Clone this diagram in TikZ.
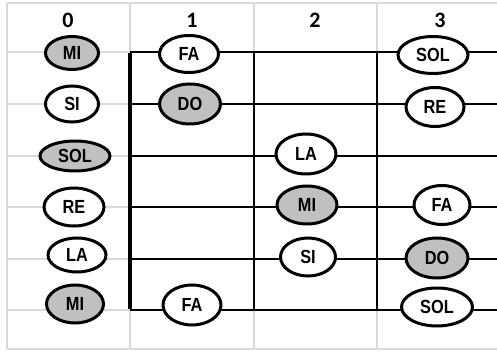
\documentclass[tikz,border=0pt]{standalone}
\usepackage{fontspec}
\usetikzlibrary{shapes.geometric}
\newfontfamily\notefont[FakeStretch=0.86]{Liberation Sans}
\newfontfamily\headfont{Carlito}
\definecolor{gridgray}{HTML}{D9D9D9}
\definecolor{notegray}{HTML}{C0C0C0}
\tikzset{
  gridline/.style={draw=gridgray, line width=1.3pt},
  staffline/.style={draw=black, line width=1.6pt},
  barline/.style={draw=black, line width=3.6pt},
  note/.style={ellipse, draw=black, line width=3pt, fill=white, inner sep=0pt,
    font=\notefont\bfseries\fontsize{19}{20}\selectfont},
  grey/.style={fill=notegray},
  sz/.style 2 args={minimum width=#1pt, minimum height=#2pt},
  head/.style={font=\headfont\bfseries\fontsize{22}{23}\selectfont, inner sep=0pt}
}
\begin{document}
\begin{tikzpicture}[x=1pt,y=-1pt]
\useasboundingbox (0,0) rectangle (497,352);
\fill[white] (0,0) rectangle (497,352);
% light grid
\foreach \yy in {3,52,104,156,207,259,310,349} \draw[gridline] (7,\yy) -- (497,\yy);
\foreach \xx in {7,130,254,377} \draw[gridline] (\xx,3) -- (\xx,349);
% header
\node[head] (h0) at (68,20) {0};
\node[head] (h1) at (192,20) {1};
\node[head] (h2) at (315,20) {2};
\node[head] (h3) at (440,20) {3};
% staff coordinates
\foreach \i/\yy in {1/52,2/104,3/156,4/207,5/259,6/310} {
  \coordinate (L\i) at (130,\yy);
  \coordinate (R\i) at (497,\yy);
}
\coordinate (Ta) at (254,52); \coordinate (Ba) at (254,310);
\coordinate (Tb) at (377,52); \coordinate (Bb) at (377,310);
\foreach \i in {1,...,6} \draw[staffline] (L\i) -- (R\i);
\draw[staffline] (Ta) -- (Ba);
\draw[staffline] (Tb) -- (Bb);
\draw[barline] ([yshift=-0.8pt]L1) -- ([yshift=0.8pt]L6);
% column 0
\node[note,grey,sz={53}{33}] (a1) at (72,53) {MI};
\node[note,sz={53}{36}] (a2) at (72,104) {SI};
\node[note,grey,sz={70}{30}] (a3) at (75,156) {SOL};
\node[note,sz={60}{38}] (a4) at (74,207) {RE};
\node[note,sz={58}{34}] (a5) at (77,255) {LA};
\node[note,grey,sz={57}{38}] (a6) at (75,304) {MI};
% column 1
\node[note,sz={59}{37}] (b1) at (189,54) {FA};
\node[note,grey,sz={61}{40}] (b2) at (190,104) {DO};
\node[note,sz={58}{40}] (b6) at (192,305) {FA};
% column 2
\node[note,sz={60}{40}] (c3) at (306,154) {LA};
\node[note,grey,sz={60}{38}] (c4) at (307,205) {MI};
\node[note,sz={55}{38}] (c5) at (308,257) {SI};
% column 3
\node[note,sz={70}{37}] (d1) at (433,55) {SOL};
\node[note,sz={58}{39}] (d2) at (435,107) {RE};
\node[note,sz={56}{39}] (d4) at (442,205) {FA};
\node[note,grey,sz={62}{40}] (d5) at (437,258) {DO};
\node[note,sz={71}{38}] (d6) at (437,307) {SOL};
\end{tikzpicture}
\end{document}
